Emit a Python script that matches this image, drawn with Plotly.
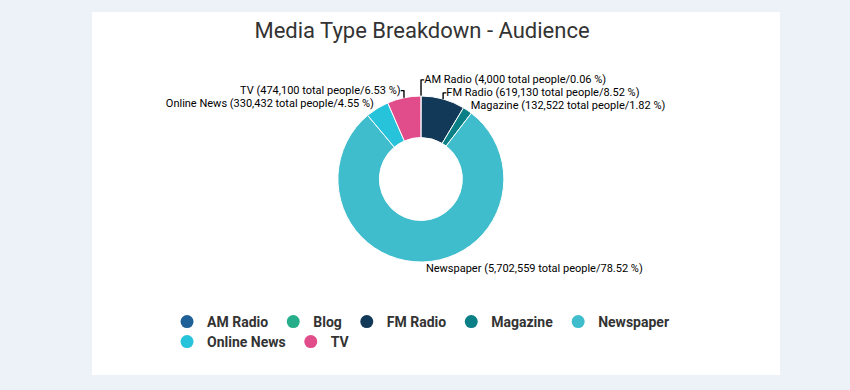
import plotly.graph_objects as go

categories = ["AM Radio", "Blog", "FM Radio", "Magazine", "Newspaper", "Online News", "TV"]
audience = [4000, 0, 619130, 132522, 5702559, 330432, 474100]
colors = ["#1f6196", "#26ad8a", "#123a58", "#0b7f86", "#3fbdcc", "#27c3da", "#e14d8a"]

total = sum(audience)
pie_labels = [c for c, v in zip(categories, audience) if v > 0]
pie_values = [v for v in audience if v > 0]
pie_colors = [col for col, v in zip(colors, audience) if v > 0]
pie_pct = [f"{v / total * 100:.2f}" for v in pie_values]

FONT = "Roboto"

fig = go.Figure()
fig.add_trace(go.Pie(
    labels=pie_labels, values=pie_values, customdata=pie_pct,
    marker=dict(colors=pie_colors, line=dict(color="white", width=1)),
    hole=0.5, sort=False, direction="clockwise", rotation=0,
    textposition="outside",
    texttemplate="%{label} (%{value:,} total people/%{customdata} %)",
    textfont=dict(family=FONT, size=11, color="#000000"),
    showlegend=False,
    domain=dict(x=[0.2, 0.785], y=[0.3282, 0.7538]),
))
for i, (c, col) in enumerate(zip(categories, colors)):
    fig.add_trace(go.Scatter(x=[None], y=[None], mode="markers", name=c,
                             legend="legend" if i < 5 else "legend2",
                             marker=dict(symbol="circle", size=13, color=col)))

legend_style = dict(orientation="h", xanchor="left", yanchor="top",
                    font=dict(family=FONT, size=14, color="#333333", weight="bold"),
                    bgcolor="rgba(0,0,0,0)", itemwidth=30)

fig.update_layout(
    width=850, height=390,
    margin=dict(l=150, r=150, t=0, b=0),
    paper_bgcolor="#edf1f8", plot_bgcolor="rgba(0,0,0,0)",
    title=dict(text="Media Type Breakdown - Audience", x=0.4965, xanchor="center",
               y=0.923, yanchor="middle",
               font=dict(family=FONT, size=22, color="#333333")),
    xaxis=dict(visible=False), yaxis=dict(visible=False),
    legend=dict(x=0.031, y=0.2154, **legend_style),
    legend2=dict(x=0.031, y=0.1641, **legend_style),
    shapes=[dict(type="rect", xref="paper", yref="paper", layer="below",
                 x0=(92 - 150) / 550, x1=(780 - 150) / 550, y0=(390 - 375) / 390, y1=(390 - 12) / 390,
                 fillcolor="white", line=dict(width=0))],
)
fig.write_html("out.html", config={"displayModeBar": False},
               post_script="document.body.style.margin='0';")
